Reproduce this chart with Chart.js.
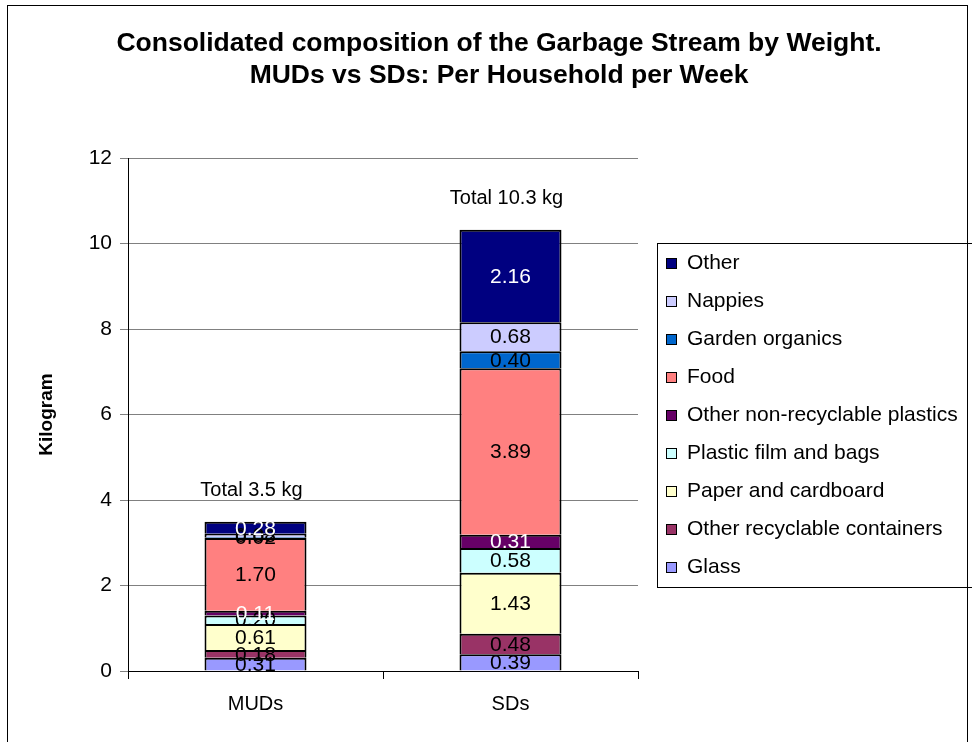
<!DOCTYPE html>
<html>
<head>
<meta charset="utf-8">
<script src="https://cdn.jsdelivr.net/npm/chart.js"></script>
<style>
  html, body { margin: 0; padding: 0; background: #fff; }
</style>
</head>
<body>
<canvas id="myChart" width="972" height="742"></canvas>
<script>
// categories and series (kg per household per week)
const categories = ['MUDs', 'SDs'];
const glass = [0.31, 0.39];
const otherContainers = [0.18, 0.48];
const paper = [0.61, 1.43];
const plasticFilm = [0.20, 0.58];
const otherPlastics = [0.11, 0.31];
const food = [1.70, 3.89];
const garden = [0.02, 0.40];
const nappies = [0.08, 0.68];
const other = [0.28, 2.16];
const totalLabels = ['Total 3.5 kg', 'Total 10.3 kg'];
const yTickValues = [0, 2, 4, 6, 8, 10, 12];

const titleLines = ['Consolidated composition of the Garbage Stream by Weight.', 'MUDs vs SDs: Per Household per Week'];
const FONT = '"Liberation Sans", Arial, sans-serif';

function ds(label, data, color, labelColor) {
    return {
        label: label,
        data: data,
        backgroundColor: color,
        borderColor: '#000',
        borderWidth: 2,
        labelColor: labelColor
    };
}

const datasets = [
    ds('Glass', glass, '#9999FF', '#000'),
    ds('Other recyclable containers', otherContainers, '#993366', '#000'),
    ds('Paper and cardboard', paper, '#FFFFCC', '#000'),
    ds('Plastic film and bags', plasticFilm, '#CCFFFF', '#000'),
    ds('Other non-recyclable plastics', otherPlastics, '#660066', '#fff'),
    ds('Food', food, '#FF8080', '#000'),
    ds('Garden organics', garden, '#0066CC', '#000'),
    ds('Nappies', nappies, '#CCCCFF', '#000'),
    ds('Other', other, '#000080', '#fff')
];

const frame = {
    id: 'frame',
    beforeDraw(chart) {
        const c = chart.ctx;
        c.save();
        c.fillStyle = '#fff';
        c.fillRect(0, 0, chart.width, chart.height);
        c.strokeStyle = '#000';
        c.lineWidth = 1;
        c.strokeRect(7.5, 5.5, 960, 800);
        c.restore();
    },
    afterDraw(chart) {
        const c = chart.ctx;
        c.save();
        // title
        c.fillStyle = '#000';
        c.font = 'bold 26.5px ' + FONT;
        c.textAlign = 'center';
        c.textBaseline = 'middle';
        c.fillText(titleLines[0], 499, 44);
        c.fillText(titleLines[1], 499, 76);

        // legend, top item = last dataset
        const lx = 657, ly = 243;
        c.strokeStyle = '#000';
        c.lineWidth = 1;
        c.strokeRect(lx + 0.5, ly + 0.5, 340, 344);
        c.font = '21px ' + FONT;
        c.textAlign = 'left';
        const items = chart.data.datasets.slice().reverse();
        items.forEach((d, i) => {
            const y = 263 + i * 38;
            c.fillStyle = d.backgroundColor;
            c.fillRect(666, y - 5, 10, 10);
            c.strokeRect(666.5, y - 4.5, 10, 10);
            c.fillStyle = '#000';
            c.fillText(d.label, 687, y);
        });

        // totals above the stacks
        const yScale = chart.scales.y;
        const xScale = chart.scales.x;
        c.font = '20px ' + FONT;
        c.textAlign = 'center';
        categories.forEach((cat, i) => {
            let total = 0;
            chart.data.datasets.forEach(d => { total += d.data[i]; });
            c.fillText(totalLabels[i], xScale.getPixelForValue(i) - 4, yScale.getPixelForValue(total) - 31);
        });
        c.restore();
    },
    afterDatasetsDraw(chart) {
        const c = chart.ctx;
        c.save();
        c.font = '21px ' + FONT;
        c.textAlign = 'center';
        c.textBaseline = 'middle';
        chart.data.datasets.forEach((d, di) => {
            const meta = chart.getDatasetMeta(di);
            meta.data.forEach((el, i) => {
                c.fillStyle = d.labelColor;
                c.fillText(d.data[i].toFixed(2), el.x, (el.y + el.base) / 2 + 1);
            });
        });
        c.restore();
    }
};

const ctx = document.getElementById('myChart').getContext('2d');
const myChart = new Chart(ctx, {
    type: 'bar',
    data: { labels: categories, datasets: datasets },
    options: {
        responsive: false,
        animation: false,
        barPercentage: 0.5,
        categoryPercentage: 0.8,
        layout: { padding: { top: 158, right: 334, left: 0, bottom: 0 } },
        plugins: {
            legend: { display: false },
            title: { display: false },
            tooltip: { enabled: false }
        },
        scales: {
            x: {
                stacked: true,
                afterFit(scale) { scale.height = 71; },
                grid: { drawOnChartArea: false, drawTicks: true, tickLength: 8, color: '#000' },
                border: { color: '#000', width: 1 },
                ticks: { color: '#000', padding: 13, font: { size: 20, family: FONT } }
            },
            y: {
                stacked: true,
                min: 0,
                max: 12,
                afterFit(scale) { scale.width = 128; },
                afterBuildTicks(scale) { scale.ticks = yTickValues.map(v => ({ value: v })); },
                grid: { color: '#808080', tickLength: 8, lineWidth: 1 },
                border: { color: '#000', width: 1 },
                ticks: { color: '#000', padding: 8, font: { size: 21, family: FONT } },
                title: {
                    display: true,
                    text: 'Kilogram',
                    color: '#000',
                    padding: { top: 35, bottom: 0 },
                    font: { size: 19, weight: 'bold', family: FONT }
                }
            }
        }
    },
    plugins: [frame]
});
</script>
</body>
</html>
